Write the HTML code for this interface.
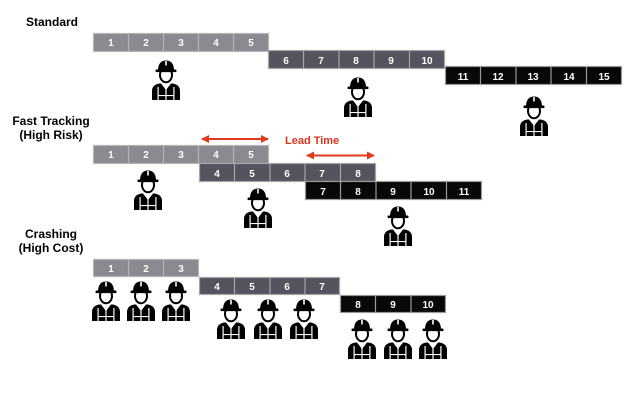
<!DOCTYPE html>
<html><head><meta charset="utf-8"><style>
html,body{margin:0;padding:0;background:#fff;}
svg{display:block;}
text{font-family:"Liberation Sans",Arial,sans-serif;font-weight:bold;}
</style></head><body>
<svg width="640" height="402" viewBox="0 0 640 402" xmlns="http://www.w3.org/2000/svg">
<defs>
<g id="w">
  <path d="M1,41 L1,32 Q1,26 8,24.5 L22,24.5 Q29,26 29,32 L29,41 Z" fill="#000"/>
  <path d="M10,24.5 L15,31 L20,24.5 Z" fill="#fff"/>
  <rect x="14.4" y="29" width="1.2" height="12" fill="#fff"/>
  <rect x="6.5" y="28" width="1.2" height="13" fill="#fff"/>
  <rect x="22.3" y="28" width="1.2" height="13" fill="#fff"/>
  <rect x="6.5" y="36" width="17" height="1.1" fill="#fff"/>
  <ellipse cx="15" cy="16" rx="6" ry="7.2" fill="#fff" stroke="#000" stroke-width="2"/>
  <path d="M7,12 Q7,1.5 15,1.5 Q23,1.5 23,12 Z" fill="#000"/>
  <rect x="4.5" y="10.5" width="21" height="2.6" rx="1" fill="#000"/>
  <rect x="14.2" y="2" width="1.6" height="4.5" fill="#fff"/>
</g>
<marker id="ah" markerWidth="8" markerHeight="8" refX="7" refY="4" orient="auto-start-reverse" markerUnits="userSpaceOnUse">
  <path d="M0,0 L8,4 L0,8 Z" fill="#e03a1e"/>
</marker>
</defs>

<text x="52" y="26" font-size="12" text-anchor="middle" fill="#000">Standard</text>
<text x="51" y="125" font-size="12" text-anchor="middle" fill="#000">Fast Tracking</text>
<text x="51" y="139" font-size="12" text-anchor="middle" fill="#000">(High Risk)</text>
<text x="51" y="238" font-size="12" text-anchor="middle" fill="#000">Crashing</text>
<text x="51" y="252" font-size="12" text-anchor="middle" fill="#000">(High Cost)</text>

<g font-size="10" text-anchor="middle" fill="#fff">
<rect x="93" y="33" width="176" height="19" fill="#8a8b90"/>
<g stroke="#b4b5b8" stroke-width="1.2" fill="none">
<rect x="93.5" y="33.5" width="175" height="18"/>
<line x1="128.5" y1="33" x2="128.5" y2="52"/><line x1="163.5" y1="33" x2="163.5" y2="52"/><line x1="198.5" y1="33" x2="198.5" y2="52"/><line x1="233.5" y1="33" x2="233.5" y2="52"/>
</g>
<text x="111" y="46">1</text><text x="146" y="46">2</text><text x="181" y="46">3</text><text x="216" y="46">4</text><text x="251" y="46">5</text>

<rect x="268" y="50" width="177" height="19" fill="#55545e"/>
<g stroke="#a5a5aa" stroke-width="1.2" fill="none">
<rect x="268.5" y="50.5" width="176" height="18"/>
<line x1="303.5" y1="50" x2="303.5" y2="69"/><line x1="339" y1="50" x2="339" y2="69"/><line x1="374" y1="50" x2="374" y2="69"/><line x1="409.5" y1="50" x2="409.5" y2="69"/>
</g>
<text x="286" y="64">6</text><text x="321" y="64">7</text><text x="356" y="64">8</text><text x="391" y="64">9</text><text x="427" y="64">10</text>

<rect x="445" y="66" width="177" height="19" fill="#080808"/>
<g stroke="#9a9a9a" stroke-width="1.2" fill="none">
<rect x="445.5" y="66.5" width="176" height="18"/>
<line x1="480.5" y1="66" x2="480.5" y2="85"/><line x1="516" y1="66" x2="516" y2="85"/><line x1="551" y1="66" x2="551" y2="85"/><line x1="586.5" y1="66" x2="586.5" y2="85"/>
</g>
<text x="463" y="80">11</text><text x="498" y="80">12</text><text x="533" y="80">13</text><text x="569" y="80">14</text><text x="604" y="80">15</text>

<rect x="93" y="145" width="176" height="19" fill="#8a8b90"/>
<g stroke="#b4b5b8" stroke-width="1.2" fill="none">
<rect x="93.5" y="145.5" width="175" height="18"/>
<line x1="128.5" y1="145" x2="128.5" y2="164"/><line x1="163.5" y1="145" x2="163.5" y2="164"/><line x1="198.5" y1="145" x2="198.5" y2="164"/><line x1="233.5" y1="145" x2="233.5" y2="164"/>
</g>
<text x="111" y="158">1</text><text x="146" y="158">2</text><text x="181" y="158">3</text><text x="216" y="158">4</text><text x="251" y="158">5</text>

<rect x="199" y="163" width="177" height="19" fill="#55545e"/>
<g stroke="#a5a5aa" stroke-width="1.2" fill="none">
<rect x="199.5" y="163.5" width="176" height="18"/>
<line x1="234.5" y1="163" x2="234.5" y2="182"/><line x1="270" y1="163" x2="270" y2="182"/><line x1="305" y1="163" x2="305" y2="182"/><line x1="340.5" y1="163" x2="340.5" y2="182"/>
</g>
<text x="217" y="177">4</text><text x="252" y="177">5</text><text x="287" y="177">6</text><text x="322" y="177">7</text><text x="358" y="177">8</text>

<rect x="305" y="181" width="177" height="19" fill="#080808"/>
<g stroke="#9a9a9a" stroke-width="1.2" fill="none">
<rect x="305.5" y="181.5" width="176" height="18"/>
<line x1="340.5" y1="181" x2="340.5" y2="200"/><line x1="376" y1="181" x2="376" y2="200"/><line x1="411" y1="181" x2="411" y2="200"/><line x1="446.5" y1="181" x2="446.5" y2="200"/>
</g>
<text x="323" y="195">7</text><text x="358" y="195">8</text><text x="393" y="195">9</text><text x="429" y="195">10</text><text x="464" y="195">11</text>

<rect x="93" y="259" width="106" height="18" fill="#8a8b90"/>
<g stroke="#b4b5b8" stroke-width="1.2" fill="none">
<rect x="93.5" y="259.5" width="105" height="17"/>
<line x1="128.5" y1="259" x2="128.5" y2="277"/><line x1="163.5" y1="259" x2="163.5" y2="277"/>
</g>
<text x="111" y="272">1</text><text x="146" y="272">2</text><text x="181" y="272">3</text>

<rect x="199" y="277" width="141" height="18" fill="#55545e"/>
<g stroke="#a5a5aa" stroke-width="1.2" fill="none">
<rect x="199.5" y="277.5" width="140" height="17"/>
<line x1="234.5" y1="277" x2="234.5" y2="295"/><line x1="270" y1="277" x2="270" y2="295"/><line x1="305" y1="277" x2="305" y2="295"/>
</g>
<text x="217" y="290">4</text><text x="252" y="290">5</text><text x="287" y="290">6</text><text x="322" y="290">7</text>

<rect x="340" y="295" width="106" height="18" fill="#080808"/>
<g stroke="#9a9a9a" stroke-width="1.2" fill="none">
<rect x="340.5" y="295.5" width="105" height="17"/>
<line x1="375.5" y1="295" x2="375.5" y2="313"/><line x1="411" y1="295" x2="411" y2="313"/>
</g>
<text x="358" y="308">8</text><text x="393" y="308">9</text><text x="428" y="308">10</text>
</g>

<line x1="202" y1="139" x2="268" y2="139" stroke="#e03a1e" stroke-width="2" marker-start="url(#ah)" marker-end="url(#ah)"/>
<line x1="307" y1="155.5" x2="374" y2="155.5" stroke="#e03a1e" stroke-width="2" marker-start="url(#ah)" marker-end="url(#ah)"/>
<text x="285" y="144" font-size="11" fill="#d8341a">Lead Time</text>

<use href="#w" x="151" y="59"/>
<use href="#w" x="343" y="76"/>
<use href="#w" x="519" y="95"/>

<use href="#w" x="133" y="169"/>
<use href="#w" x="243" y="187"/>
<use href="#w" x="383" y="205"/>

<use href="#w" x="91" y="280"/>
<use href="#w" x="126" y="280"/>
<use href="#w" x="161" y="280"/>
<use href="#w" x="216" y="298"/>
<use href="#w" x="253" y="298"/>
<use href="#w" x="289" y="298"/>
<use href="#w" x="347" y="318"/>
<use href="#w" x="383" y="318"/>
<use href="#w" x="418" y="318"/>
</svg>
</body></html>
